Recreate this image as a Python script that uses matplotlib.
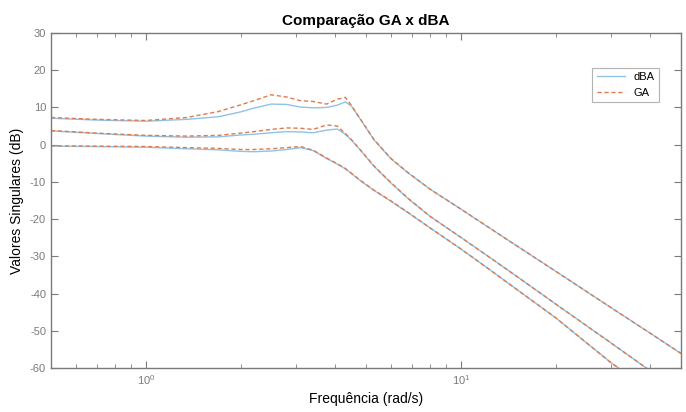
import matplotlib
matplotlib.use("Agg")
import matplotlib.pyplot as plt
from matplotlib.ticker import LogLocator, NullFormatter

plt.rcParams["font.family"] = ["Liberation Sans", "DejaVu Sans"]
plt.rcParams["axes.unicode_minus"] = False

# frequências (rad/s) onde os valores foram lidos
freq = [0.5, 0.7, 1.0, 1.35, 1.7, 2.0, 2.2, 2.5, 2.8, 3.1, 3.4, 3.75, 4.05,
        4.3, 4.5, 4.8, 5.3, 6.0, 6.8, 8.0, 10, 12.5, 15, 20, 30, 40, 50]

# valores singulares (dB) - dBA
dba_s1 = [7.1, 6.6, 6.3, 6.8, 7.5, 8.8, 9.8, 10.9, 10.8, 10.1, 9.9, 10.0, 10.6,
          11.5, 10.3, 6.8, 1.3, -3.8, -7.6, -12.0, -17.3, -22.7, -27.1, -34.0,
          -43.8, -50.7, -56.1]
dba_s2 = [3.7, 3.0, 2.3, 2.0, 2.1, 2.6, 2.8, 3.2, 3.5, 3.4, 3.2, 3.9, 4.2,
          2.8, 1.2, -1.5, -5.8, -10.3, -14.5, -19.3, -24.9, -30.6, -35.3, -42.8,
          -53.3, -60.8, -66.6]
dba_s3 = [-0.4, -0.5, -0.7, -1.1, -1.4, -1.8, -1.9, -1.7, -1.3, -0.8, -1.6, -3.7,
          -5.2, -6.5, -7.8, -9.7, -12.3, -15.2, -18.3, -22.4, -28.0, -33.9, -38.8,
          -46.5, -58.6, -66.0, -71.9]

# valores singulares (dB) - GA
ga_s1 = [7.3, 6.8, 6.5, 7.3, 8.9, 10.7, 11.8, 13.4, 12.8, 11.8, 11.6, 10.9, 12.2,
         12.7, 10.5, 6.9, 1.4, -3.7, -7.5, -12.0, -17.3, -22.7, -27.1, -34.0,
         -43.8, -50.7, -56.1]
ga_s2 = [3.8, 3.1, 2.5, 2.3, 2.5, 3.1, 3.5, 4.1, 4.5, 4.4, 4.1, 5.3, 5.0,
         3.0, 1.3, -1.4, -5.7, -10.2, -14.4, -19.3, -24.9, -30.6, -35.3, -42.8,
         -53.3, -60.8, -66.6]
ga_s3 = [-0.3, -0.4, -0.5, -0.8, -1.0, -1.3, -1.3, -1.1, -0.8, -0.5, -1.5, -3.6,
         -5.1, -6.4, -7.7, -9.6, -12.2, -15.1, -18.2, -22.4, -28.0, -33.9, -38.8,
         -46.5, -58.6, -66.0, -71.9]

azul = "#8fc3e6"
laranja = "#e07a4a"
cinza = "#7a7a7a"

fig = plt.figure(figsize=(6.86, 4.12), dpi=100)
ax = fig.add_axes([0.0743, 0.1068, 0.9184, 0.8131])

for i, s in enumerate([dba_s1, dba_s2, dba_s3]):
    ax.semilogx(freq, s, color=azul, lw=1.0, label="dBA" if i == 0 else None)
for i, s in enumerate([ga_s1, ga_s2, ga_s3]):
    ax.semilogx(freq, s, color=laranja, lw=1.0, linestyle=(0, (3, 2)),
                label="GA" if i == 0 else None)

ax.set_xlim(0.5, 50)
ax.set_ylim(-60, 30)
ax.set_yticks(range(-60, 31, 10))
ax.xaxis.set_major_locator(LogLocator(base=10))
ax.xaxis.set_minor_locator(LogLocator(base=10, subs=range(2, 10)))
ax.xaxis.set_minor_formatter(NullFormatter())

ax.tick_params(which="both", direction="in", top=True, right=True,
               colors=cinza, labelsize=8, labelcolor=cinza)
ax.tick_params(which="major", length=5, width=0.8)
ax.tick_params(which="minor", length=3, width=0.6)
for sp in ax.spines.values():
    sp.set_color(cinza)
    sp.set_linewidth(1.0)

ax.set_title("Comparação GA x dBA", fontsize=11, fontweight="bold", pad=6)
ax.set_xlabel("Frequência (rad/s)", fontsize=10, labelpad=4)
ax.set_ylabel("Valores Singulares (dB)", fontsize=10, labelpad=4)

leg = ax.legend(loc="upper right", bbox_to_anchor=(0.965, 0.896),
                borderaxespad=0, fontsize=8, fancybox=False, handlelength=2.5,
                frameon=True)
leg.get_frame().set_edgecolor("#a0a0a0")
leg.get_frame().set_linewidth(0.8)

fig.savefig("out.png", dpi=100)
